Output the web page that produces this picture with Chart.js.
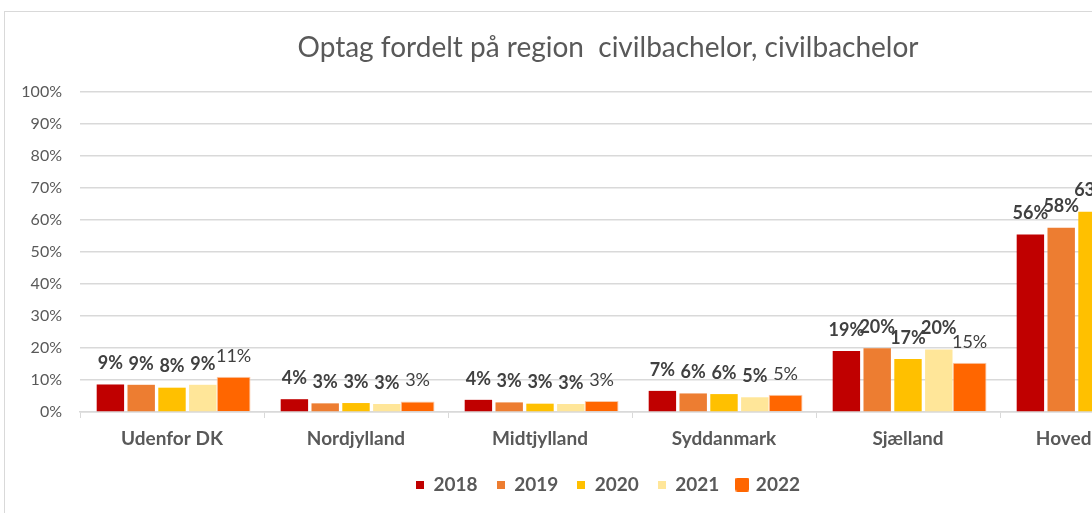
<!DOCTYPE html>
<html>
<head>
<meta charset="utf-8">
<style>
  html, body { margin: 0; padding: 0; overflow: hidden; background: #fff; }
  #box {
    position: absolute; left: 4px; top: 11px;
    width: 1206px; height: 507px;
    border: 1px solid #d9d9d9;
  }
</style>
</head>

<body>

<div id="box">
  <canvas id="myChart" width="1206" height="507"></canvas>
</div>

<script src="https://cdn.jsdelivr.net/npm/chart.js"></script>

<script>
  const regions = ['Udenfor DK', 'Nordjylland', 'Midtjylland', 'Syddanmark', 'Sjælland', 'Hovedstaden'];
  const years = ['2018', '2019', '2020', '2021', '2022'];

  // andel i procent
  const v2018 = [8.6, 4.0, 3.8, 6.6, 19.1, 55.5];
  const v2019 = [8.5, 2.7, 3.0, 5.8, 19.9, 57.6];
  const v2020 = [7.6, 2.8, 2.6, 5.6, 16.6, 62.6];
  const v2021 = [8.5, 2.5, 2.5, 4.6, 19.5, 60.0];
  const v2022 = [11.0, 3.3, 3.4, 5.4, 15.4, 60.5];

  const yTicks = [0, 10, 20, 30, 40, 50, 60, 70, 80, 90, 100];

  const colors = ['#C00000', '#ED7D31', '#FFC000', '#FFE699', '#FF6600'];
  const series = [v2018, v2019, v2020, v2021, v2022];

  const gridColor = '#d9d9d9';
  const textColor = '#595959';

  // small legend markers, last one bigger like the selected series
  function marker(color, size, round) {
    const c = document.createElement('canvas');
    c.width = size; c.height = size;
    const g = c.getContext('2d');
    g.fillStyle = color;
    if (round) {
      g.beginPath();
      g.roundRect(0, 0, size, size, 2);
      g.fill();
    } else {
      g.fillRect(0, 0, size, size);
    }
    return c;
  }

  const datasets = years.map(function(y, i) {
    const last = i === years.length - 1;
    return {
      label: y,
      data: series[i],
      backgroundColor: colors[i],
      borderColor: last ? '#F8CBAD' : 'rgba(255,255,255,0.6)',
      borderWidth: last ? 1 : 0,
      barPercentage: last ? 1.1 : 0.89,
      categoryPercentage: 0.837,
      marker: last ? marker(colors[i], 14, true) : marker(colors[i], 8, false)
    };
  });

  const valueLabels = {
    id: 'valueLabels',
    afterDatasetsDraw(chart) {
      const ctx = chart.ctx;
      ctx.save();
      ctx.fillStyle = '#404040';
      ctx.textAlign = 'center';
      ctx.textBaseline = 'middle';
      chart.data.datasets.forEach(function(ds, i) {
        const meta = chart.getDatasetMeta(i);
        ctx.font = (i === 4 ? 'normal ' : 'bold ') + '18px Lato';
        meta.data.forEach(function(bar, j) {
          ctx.fillText(Math.round(ds.data[j]) + '%', bar.x, bar.y - 21);
        });
      });
      ctx.restore();
    }
  };

  const config = {
    type: 'bar',
    data: { labels: regions, datasets: datasets },
    options: {
      responsive: false,
      animation: false,
      layout: { padding: { left: 0, right: 0, top: 0, bottom: 15 } },
      plugins: {
        title: {
          display: true,
          text: 'Optag fordelt på region  civilbachelor, civilbachelor',
          color: textColor,
          font: { family: 'Lato', size: 28, weight: 'normal' },
          padding: { top: 19.2, bottom: 27.2 }
        },
        legend: {
          position: 'bottom',
          labels: {
            usePointStyle: true,
            boxWidth: 8,
            boxHeight: 8,
            padding: 19,
            color: textColor,
            font: { family: 'Lato', size: 19, weight: 'bold' },
            generateLabels: function(chart) {
              const items = Chart.defaults.plugins.legend.labels.generateLabels(chart);
              items.forEach(function(it) {
                it.pointStyle = chart.data.datasets[it.datasetIndex].marker;
              });
              return items;
            }
          }
        },
        tooltip: { enabled: false }
      },
      scales: {
        x: {
          offset: true,
          grid: { display: true, drawOnChartArea: false, color: gridColor, tickLength: 6, offset: true },
          border: { display: true, color: gridColor, width: 1.5 },
          ticks: { color: textColor, padding: 9, font: { family: 'Lato', size: 19, weight: 'bold' } },
          afterFit: function(s) { s.height = 44; }
        },
        y: {
          min: 0,
          max: 100,
          afterBuildTicks: function(s) { s.ticks = yTicks.map(function(v) { return { value: v }; }); },
          ticks: {
            color: textColor,
            padding: 18,
            font: { family: 'Lato', size: 16 },
            callback: function(v) { return v + '%'; }
          },
          grid: { color: gridColor, lineWidth: 1.5, drawTicks: false },
          border: { display: false },
          afterFit: function(s) { s.width = 75; }
        },
        yRight: {
          position: 'right',
          display: true,
          ticks: { display: false },
          grid: { display: false },
          border: { display: false },
          afterFit: function(s) { s.width = 27; }
        }
      }
    },
    plugins: [valueLabels]
  };
</script>

<script>
  const myChart = new Chart(
    document.getElementById('myChart'),
    config
  );
</script>

</body>
</html>
